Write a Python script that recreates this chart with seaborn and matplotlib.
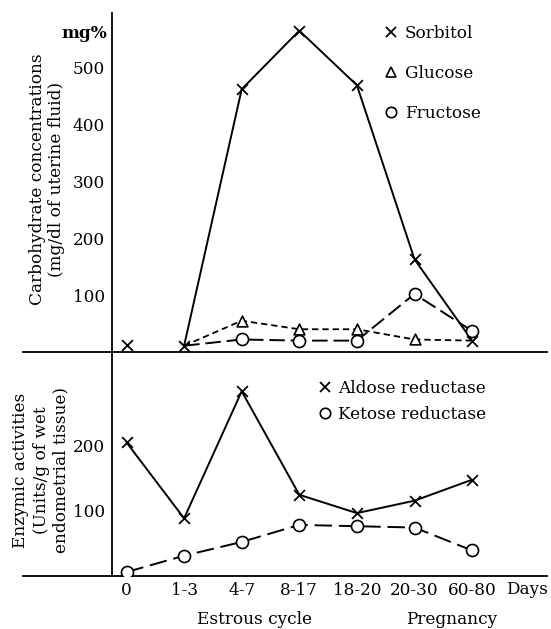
import numpy as np
import pandas as pd
import matplotlib
matplotlib.use("Agg")
import matplotlib.pyplot as plt
from matplotlib.lines import Line2D
import seaborn as sns

# ---- data ----
days = ["0", "1-3", "4-7", "8-17", "18-20", "20-30", "60-80"]
sorbitol = [12, 11, 462, 565, 469, 163, 20]
glucose = [np.nan, 11, 55, 40, 40, 22, 20]
fructose = [np.nan, 11, 22, 20, 20, 102, 37]
aldose = [204, 88, 282, 124, 96, 115, 147]
ketose = [6, 31, 52, 78, 76, 74, 39]
top_ticks = [100, 200, 300, 400, 500]
bottom_ticks = [100, 200]
# which points carry a visible marker
glucose_marked = [False, False, True, True, True, True, False]
fructose_marked = [False, False, True, True, True, True, True]

sns.set_theme(style="white")
plt.rcParams["font.family"] = ["DejaVu Serif"]
plt.rcParams["axes.linewidth"] = 1.2
plt.rcParams["text.color"] = "black"
plt.rcParams["xtick.color"] = "black"
plt.rcParams["ytick.color"] = "black"
plt.rcParams["axes.labelcolor"] = "black"

W, H = 551, 629
fig = plt.figure(figsize=(W / 100, H / 100), dpi=100)

def fx(px):
    return px / W

def fy(py):
    return 1 - py / H

x0_px, step_px = 126.5, 57.6
left_px, right_px = 23, 547
yaxis_px = 111.7
xlim = ((left_px - x0_px) / step_px, (right_px - x0_px) / step_px)
yspine = (yaxis_px - x0_px) / step_px

ax_top = fig.add_axes([fx(left_px), fy(352), fx(right_px) - fx(left_px), fy(13) - fy(352)])
ax_bot = fig.add_axes([fx(left_px), fy(576), fx(right_px) - fx(left_px), fy(352) - fy(576)])

pos = np.arange(len(days))
df = pd.DataFrame({"pos": pos, "sorbitol": sorbitol, "glucose": glucose,
                   "fructose": fructose, "aldose": aldose, "ketose": ketose})

lw = 1.4
# ---- top panel ----
sns.lineplot(data=df.iloc[1:], x="pos", y="sorbitol", ax=ax_top, color="black", lw=lw, zorder=2)
sns.lineplot(data=df.dropna(subset=["glucose"]), x="pos", y="glucose", ax=ax_top, color="black",
             lw=1.3, linestyle=(0, (3.5, 2.2)), zorder=2)
sns.lineplot(data=df.dropna(subset=["fructose"]), x="pos", y="fructose", ax=ax_top, color="black",
             lw=1.4, linestyle=(0, (8, 3)), zorder=2)
sns.scatterplot(data=df, x="pos", y="sorbitol", ax=ax_top, marker="x", s=60, color="black",
                linewidth=1.3, zorder=4)
sns.scatterplot(data=df[glucose_marked], x="pos", y="glucose", ax=ax_top, marker="^", s=60,
                facecolor="white", edgecolor="black", linewidth=1.2, zorder=3)
sns.scatterplot(data=df[fructose_marked], x="pos", y="fructose", ax=ax_top, marker="o", s=75,
                facecolor="white", edgecolor="black", linewidth=1.2, zorder=3)

# ---- bottom panel ----
sns.lineplot(data=df, x="pos", y="aldose", ax=ax_bot, color="black", lw=lw, zorder=2)
sns.lineplot(data=df, x="pos", y="ketose", ax=ax_bot, color="black", lw=1.4,
             linestyle=(0, (9, 3.5)), zorder=2)
sns.scatterplot(data=df, x="pos", y="aldose", ax=ax_bot, marker="x", s=60, color="black",
                linewidth=1.3, zorder=4)
sns.scatterplot(data=df, x="pos", y="ketose", ax=ax_bot, marker="o", s=75,
                facecolor="white", edgecolor="black", linewidth=1.2, zorder=3)

fs = 12.2
for ax in (ax_top, ax_bot):
    ax.set_xlim(*xlim)
    ax.set_facecolor("none")
    ax.spines["top"].set_visible(False)
    ax.spines["right"].set_visible(False)
    ax.spines["left"].set_position(("data", yspine))
    for s in ("left", "bottom"):
        ax.spines[s].set_color("black")
        ax.spines[s].set_linewidth(1.3)
    ax.set_xlabel("")
    ax.set_ylabel("")
    ax.tick_params(axis="y", direction="out", length=4, width=1.2, pad=1, labelsize=fs,
                   colors="black")

ax_top.set_ylim(0, 596)
ax_top.set_yticks(top_ticks)
ax_top.set_xticks([])
ax_top.tick_params(axis="x", bottom=False, labelbottom=False)

ax_bot.set_ylim(0, 342)
ax_bot.set_yticks(bottom_ticks)
ax_bot.set_xticks(pos)
ax_bot.set_xticklabels(days)
ax_bot.tick_params(axis="x", direction="in", length=5, width=1.2, pad=4, labelsize=fs,
                   colors="black")
ax_bot.xaxis.get_major_ticks()[0].tick1line.set_visible(False)

# ---- texts ----
fig.text(fx(107), fy(34), "mg%", ha="right", va="center", fontsize=fs, fontweight="bold")
fig.text(fx(527), fy(589), "Days", ha="center", va="center", fontsize=fs)
fig.text(fx(255), fy(619), "Estrous cycle", ha="center", va="center", fontsize=fs)
fig.text(fx(452), fy(619), "Pregnancy", ha="center", va="center", fontsize=fs)
fig.text(fx(47), fy(179), "Carbohydrate concentrations\n(mg/dl of uterine fluid)", rotation=90,
         ha="center", va="center", multialignment="center", fontsize=fs, linespacing=1.1)
fig.text(fx(41), fy(470), "Enzymic activities\n(Units/g of wet\nendometrial tissue)", rotation=90,
         ha="center", va="center", multialignment="center", fontsize=fs, linespacing=1.25)

# ---- legends ----
h_s = Line2D([], [], marker="x", color="black", ls="none", ms=7, mew=1.3)
h_g = Line2D([], [], marker="^", color="black", mfc="white", ls="none", ms=7, mew=1.2)
h_f = Line2D([], [], marker="o", color="black", mfc="white", ls="none", ms=7.5, mew=1.2)
fig.legend([h_s, h_g, h_f], ["Sorbitol", "Glucose", "Fructose"], loc="upper left",
           bbox_to_anchor=(fx(386), fy(25)), frameon=False, fontsize=fs, handlelength=0.55,
           handletextpad=0.55, labelspacing=1.35, borderpad=0, borderaxespad=0)
h_a = Line2D([], [], marker="x", color="black", ls="none", ms=7, mew=1.3)
h_k = Line2D([], [], marker="o", color="black", mfc="white", ls="none", ms=7.5, mew=1.2)
fig.legend([h_a, h_k], ["Aldose reductase", "Ketose reductase"], loc="upper left",
           bbox_to_anchor=(fx(320), fy(380)), frameon=False, fontsize=fs, handlelength=0.55,
           handletextpad=0.5, labelspacing=0.55, borderpad=0, borderaxespad=0)

fig.savefig("out.png", dpi=100, facecolor="white")
